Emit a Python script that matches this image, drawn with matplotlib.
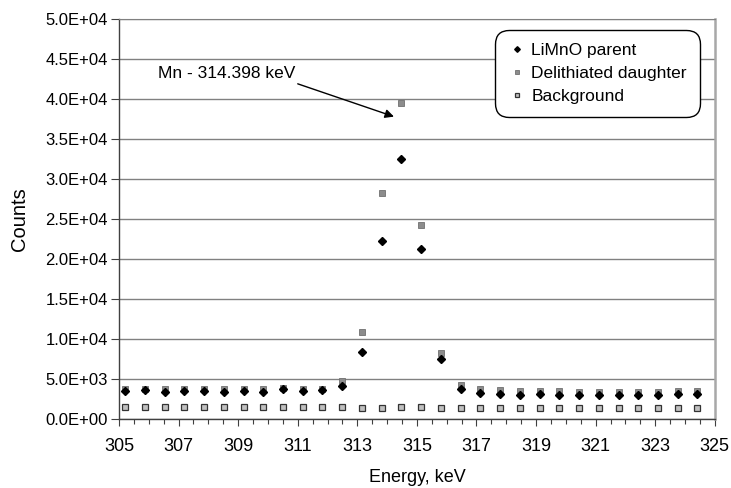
import matplotlib
matplotlib.use("Agg")
import matplotlib.pyplot as plt
from matplotlib.ticker import MultipleLocator, FixedLocator, FuncFormatter

plt.rcParams['font.family'] = ['Liberation Sans', 'DejaVu Sans']

energy = [305.20, 305.86, 306.53, 307.19, 307.85, 308.51, 309.18, 309.84, 310.50, 311.17,
          311.83, 312.49, 313.15, 313.82, 314.48, 315.14, 315.81, 316.47, 317.13, 317.79,
          318.46, 319.12, 319.78, 320.44, 321.11, 321.77, 322.43, 323.10, 323.76, 324.42]
parent = [3500, 3600, 3400, 3550, 3450, 3400, 3500, 3400, 3700, 3550,
          3600, 4100, 8400, 22300, 32500, 21200, 7500, 3700, 3300, 3150,
          3050, 3100, 3050, 3000, 2950, 3000, 2950, 3050, 3100, 3150]
daughter = [3700, 3700, 3800, 3800, 3700, 3750, 3750, 3750, 3900, 3800,
            3800, 4700, 10900, 28300, 39500, 24200, 8300, 4200, 3700, 3650,
            3550, 3500, 3450, 3400, 3400, 3400, 3350, 3400, 3450, 3500]
background = [1450, 1450, 1500, 1550, 1550, 1500, 1450, 1450, 1450, 1500,
              1450, 1450, 1400, 1400, 1450, 1450, 1400, 1400, 1400, 1400,
              1400, 1400, 1350, 1400, 1350, 1400, 1350, 1400, 1400, 1400]
x_tick_labels = [305, 307, 309, 311, 313, 315, 317, 319, 321, 323, 325]
series_names = ["LiMnO parent", "Delithiated daughter", "Background"]
annotation_text = "Mn - 314.398 keV"

fig = plt.figure(figsize=(7.31, 4.88), dpi=100)
ax = fig.add_axes([0.1628, 0.1414, 0.815, 0.8196])

ax.plot(energy, background, linestyle='none', marker='s', markersize=3.8,
        markerfacecolor='#c0c0c0', markeredgecolor='#333333', markeredgewidth=0.9,
        label=series_names[2], zorder=3)
ax.plot(energy, daughter, linestyle='none', marker='s', markersize=3.8,
        markerfacecolor='#8c8c8c', markeredgecolor='#707070', markeredgewidth=0.6,
        label=series_names[1], zorder=4)
ax.plot(energy, parent, linestyle='none', marker='D', markersize=3.8,
        markerfacecolor='black', markeredgecolor='black',
        label=series_names[0], zorder=5)

ax.set_xlim(305, 325)
ax.set_ylim(0, 50000)
ax.xaxis.set_major_locator(FixedLocator(x_tick_labels))
ax.xaxis.set_minor_locator(MultipleLocator(0.5))
ax.yaxis.set_major_locator(MultipleLocator(5000))
ax.yaxis.set_major_formatter(FuncFormatter(lambda v, p: f"{v:.1E}"))

ax.grid(axis='y', color='#808080', linewidth=1.0, zorder=0)
ax.set_axisbelow(True)
for s in ['left', 'bottom']:
    ax.spines[s].set_color('#404040')
    ax.spines[s].set_linewidth(1.0)
ax.spines['top'].set_color('#808080')
ax.spines['right'].set_color('#a8a8a8')
ax.spines['right'].set_linewidth(1.8)

ax.tick_params(axis='y', which='major', direction='out', length=6, width=0.8,
               color='#404040', labelsize=12, labelcolor='black', pad=2)
ax.tick_params(axis='x', which='major', direction='out', length=5, width=0.8,
               color='#404040', labelsize=13, labelcolor='black', pad=9)
ax.tick_params(axis='x', which='minor', direction='out', length=3.5, width=0.8, color='#404040')

ax.set_xlabel("Energy, keV", fontsize=13, labelpad=10)
ax.set_ylabel("Counts", fontsize=14.5, labelpad=12)

ax.annotate("", xy=(314.23, 37800), xytext=(311.0, 41900),
            arrowprops=dict(arrowstyle='-|>', color='black', lw=1.0,
                            shrinkA=0, shrinkB=0, mutation_scale=13))
ax.text(306.31, 43200, annotation_text, fontsize=12.5, va='center', ha='left')

handles, labels = ax.get_legend_handles_labels()
order = [2, 1, 0]
leg = ax.legend([handles[i] for i in order], [labels[i] for i in order],
                loc='upper right', bbox_to_anchor=(0.975, 0.9725), fontsize=12.5,
                frameon=True, fancybox=True, edgecolor='black', framealpha=1,
                handletextpad=0.35, borderpad=0.75, labelspacing=0.44,
                handlelength=1.0, borderaxespad=0, markerscale=0.75)
leg.get_frame().set_linewidth(1.0)
leg.get_frame().set_boxstyle('round', pad=0, rounding_size=0.8)

fig.savefig("out.png", dpi=100)
